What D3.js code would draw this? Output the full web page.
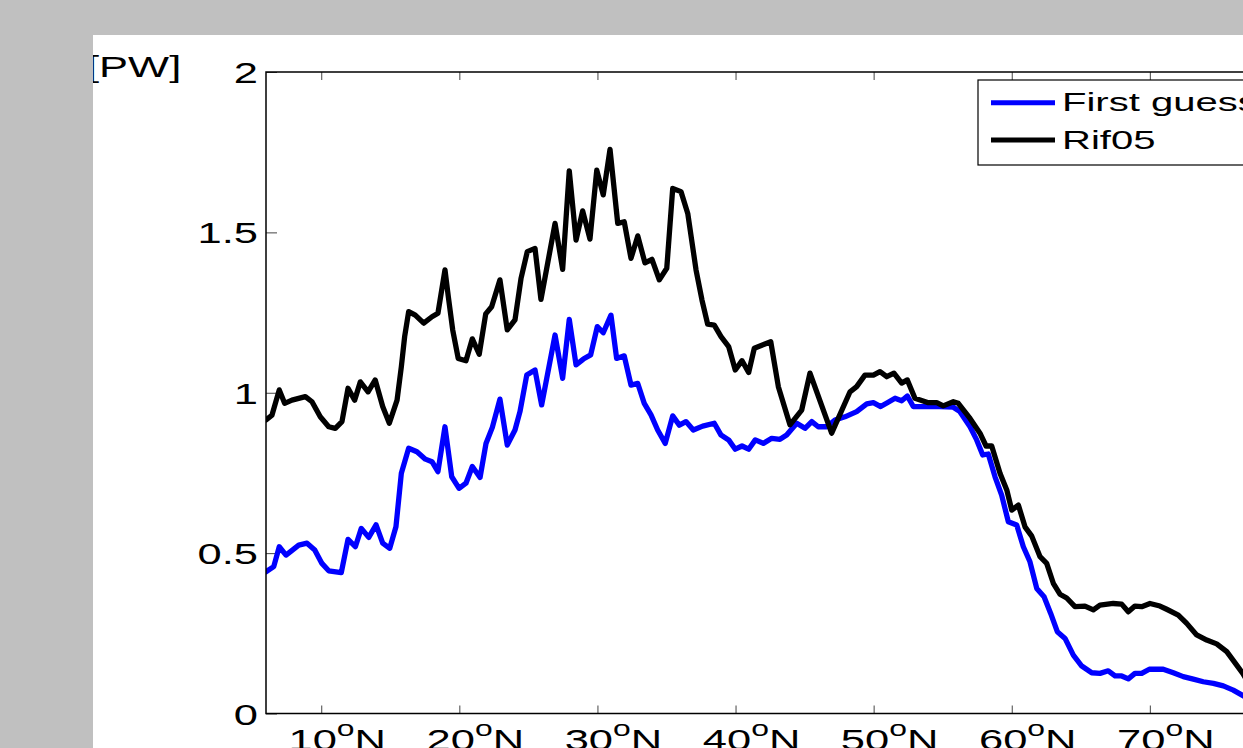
<!DOCTYPE html>
<html>
<head>
<meta charset="utf-8">
<script src="https://cdn.jsdelivr.net/npm/d3@7"></script>
<style>
  html, body { margin: 0; padding: 0; background: #c0c0c0; overflow: hidden; }
  svg { display: block; }
  text { font-family: "Liberation Sans", Arial, sans-serif; fill: #000; }
</style>
</head>
<body>
<script>
// Meridional heat transport [PW] versus latitude
const latFirstGuess = [6.0, 6.56, 6.96, 7.45, 8.37, 8.97, 9.53, 10.05, 10.54, 11.45, 11.94, 12.47, 12.9, 13.44, 13.97, 14.45, 14.96, 15.41, 15.8, 16.33, 16.93, 17.54, 18.02, 18.45, 18.96, 19.45, 19.98, 20.48, 20.94, 21.5, 21.93, 22.39, 22.94, 23.47, 24.03, 24.39, 24.88, 25.48, 25.96, 26.93, 27.48, 27.96, 28.45, 28.98, 29.51, 29.99, 30.42, 30.98, 31.39, 31.94, 32.43, 32.92, 33.39, 33.88, 34.36, 34.91, 35.45, 35.93, 36.41, 36.94, 37.62, 38.46, 38.95, 39.5, 39.98, 40.47, 40.95, 41.43, 42.01, 42.62, 43.22, 43.7, 44.43, 45.03, 45.52, 45.99, 46.6, 47.2, 47.92, 48.77, 49.5, 49.98, 50.51, 50.99, 51.55, 52.03, 52.44, 52.87, 53.84, 54.8, 55.77, 56.25, 56.98, 57.46, 57.9, 58.3, 58.79, 59.27, 59.75, 60.36, 60.84, 61.32, 61.81, 62.34, 62.82, 63.3, 63.86, 64.46, 65.07, 65.79, 66.39, 66.99, 67.48, 67.96, 68.44, 68.92, 69.41, 69.96, 70.97, 71.7, 72.42, 73.15, 73.87, 74.6, 75.32, 76.04, 76.65, 77.2];
const valFirstGuess = [0.442, 0.458, 0.52, 0.494, 0.525, 0.531, 0.51, 0.468, 0.445, 0.439, 0.543, 0.52, 0.577, 0.549, 0.588, 0.531, 0.515, 0.582, 0.749, 0.827, 0.816, 0.793, 0.785, 0.754, 0.894, 0.738, 0.702, 0.718, 0.77, 0.736, 0.842, 0.892, 0.98, 0.837, 0.884, 0.941, 1.055, 1.071, 0.962, 1.18, 1.045, 1.229, 1.087, 1.105, 1.118, 1.206, 1.187, 1.242, 1.107, 1.115, 1.024, 1.029, 0.967, 0.931, 0.884, 0.842, 0.928, 0.899, 0.91, 0.884, 0.896, 0.905, 0.868, 0.853, 0.824, 0.834, 0.824, 0.853, 0.842, 0.858, 0.855, 0.868, 0.905, 0.889, 0.91, 0.894, 0.894, 0.915, 0.925, 0.941, 0.965, 0.969, 0.957, 0.969, 0.983, 0.975, 0.99, 0.957, 0.957, 0.957, 0.955, 0.941, 0.894, 0.853, 0.806, 0.809, 0.738, 0.681, 0.598, 0.588, 0.52, 0.473, 0.39, 0.364, 0.312, 0.255, 0.234, 0.182, 0.148, 0.127, 0.125, 0.133, 0.117, 0.117, 0.108, 0.125, 0.125, 0.138, 0.138, 0.127, 0.115, 0.107, 0.099, 0.094, 0.086, 0.073, 0.058, 0.045];

const latRif05 = [6.0, 6.43, 6.96, 7.35, 7.88, 8.85, 9.33, 9.93, 10.54, 11.02, 11.5, 11.94, 12.42, 12.83, 13.39, 13.91, 14.45, 14.93, 15.49, 15.8, 16.04, 16.33, 16.81, 17.42, 18.02, 18.45, 18.96, 19.2, 19.52, 19.92, 20.48, 20.94, 21.44, 21.91, 22.34, 22.94, 23.47, 24.03, 24.47, 24.92, 25.48, 25.91, 26.93, 27.48, 27.96, 28.45, 28.93, 29.46, 29.95, 30.42, 30.91, 31.47, 31.94, 32.43, 32.92, 33.44, 33.95, 34.48, 35.02, 35.45, 36.05, 36.54, 37.14, 37.57, 37.98, 38.46, 38.95, 39.5, 39.98, 40.47, 40.95, 41.36, 42.55, 43.1, 43.94, 44.79, 45.39, 46.96, 48.29, 48.77, 49.37, 49.98, 50.46, 50.95, 51.47, 52.03, 52.44, 52.99, 53.96, 54.57, 55.04, 55.77, 56.13, 56.98, 57.7, 58.14, 58.55, 59.15, 59.64, 60.0, 60.48, 60.96, 61.45, 62.05, 62.53, 63.01, 63.49, 63.98, 64.58, 65.3, 65.91, 66.39, 67.35, 67.96, 68.44, 68.92, 69.41, 70.01, 70.73, 71.22, 72.06, 72.67, 73.39, 74.12, 74.84, 75.57, 76.29, 76.73, 77.2];
const valRif05 = [0.915, 0.93, 1.009, 0.967, 0.977, 0.988, 0.972, 0.925, 0.894, 0.889, 0.91, 1.014, 0.977, 1.034, 1.003, 1.04, 0.957, 0.905, 0.977, 1.081, 1.175, 1.253, 1.242, 1.217, 1.237, 1.248, 1.383, 1.3, 1.196, 1.107, 1.1, 1.168, 1.12, 1.246, 1.268, 1.352, 1.196, 1.227, 1.357, 1.44, 1.45, 1.291, 1.528, 1.385, 1.692, 1.476, 1.567, 1.479, 1.694, 1.617, 1.759, 1.528, 1.533, 1.419, 1.489, 1.405, 1.416, 1.352, 1.388, 1.637, 1.627, 1.559, 1.383, 1.289, 1.214, 1.211, 1.175, 1.144, 1.071, 1.1, 1.063, 1.139, 1.159, 1.019, 0.9, 0.946, 1.061, 0.874, 1.003, 1.019, 1.055, 1.055, 1.066, 1.05, 1.061, 1.03, 1.04, 0.983, 0.969, 0.969, 0.959, 0.972, 0.967, 0.92, 0.874, 0.834, 0.834, 0.749, 0.697, 0.634, 0.65, 0.582, 0.553, 0.489, 0.468, 0.406, 0.372, 0.36, 0.333, 0.335, 0.323, 0.338, 0.343, 0.341, 0.317, 0.335, 0.333, 0.343, 0.335, 0.325, 0.307, 0.281, 0.245, 0.229, 0.217, 0.193, 0.151, 0.125, 0.09];

const seriesNames = ["First guess", "Rif05"];
const seriesColors = ["#0000ff", "#000000"];
const xTickValues = [10, 20, 30, 40, 50, 60, 70, 80];
const yTickValues = [0, 0.5, 1, 1.5, 2];
const yTickLabels = ["0", "0.5", "1", "1.5", "2"];
const unitLabel = "[PW]";

const W = 1243, H = 748;
const SX = 1.45;        // horizontal stretch of axis lettering
const SX_LEGEND = 1.54; // horizontal stretch of legend lettering

const svg = d3.select("body").append("svg").attr("width", W).attr("height", H);

// figure background
svg.append("rect").attr("x", 0).attr("y", 0).attr("width", W).attr("height", H).attr("fill", "#c0c0c0");
svg.append("defs").append("clipPath").attr("id", "panelClip")
  .append("rect").attr("x", 93).attr("y", 35).attr("width", W - 93).attr("height", H - 35);
const panel = svg.append("g").attr("clip-path", "url(#panelClip)");
panel.append("rect").attr("x", 93).attr("y", 35).attr("width", W - 93).attr("height", H - 35).attr("fill", "#fff");

const plotLeft = 266, plotTop = 72, plotBottom = 713.5;
const x = d3.scaleLinear().domain([6, 80]).range([plotLeft, plotLeft + 74 * 13.81]);
const y = d3.scaleLinear().domain([0, 2]).range([plotBottom, plotTop]);
const plotRight = x.range()[1];

panel.append("clipPath").attr("id", "plotClip")
  .append("rect").attr("x", plotLeft).attr("y", plotTop).attr("width", plotRight - plotLeft).attr("height", plotBottom - plotTop);

// inward ticks
const axG = panel.append("g");
axG.append("g").attr("transform", `translate(0,${plotBottom})`)
  .call(d3.axisBottom(x).tickValues(xTickValues).tickSize(-8).tickFormat(""));
axG.append("g").attr("transform", `translate(0,${plotTop})`)
  .call(d3.axisTop(x).tickValues(xTickValues).tickSize(-8).tickFormat(""));
axG.append("g").attr("transform", `translate(${plotLeft},0)`)
  .call(d3.axisLeft(y).tickValues(yTickValues).tickSize(-11).tickFormat(""));
axG.selectAll(".domain").remove();
axG.selectAll(".tick line").attr("stroke", "#444").attr("stroke-width", 1);

// data lines
const line = d3.line().x(d => x(d[0])).y(d => y(d[1]));
const seriesData = [
  d3.zip(latFirstGuess, valFirstGuess),
  d3.zip(latRif05, valRif05)
];
const lines = panel.append("g").attr("clip-path", "url(#plotClip)");
seriesData.forEach((pts, i) => {
  lines.append("path").datum(pts).attr("d", line)
    .attr("fill", "none").attr("stroke", seriesColors[i])
    .attr("stroke-width", 5.3).attr("stroke-linejoin", "round").attr("stroke-linecap", "round");
});

// axes box
panel.append("rect").attr("x", plotLeft).attr("y", plotTop)
  .attr("width", plotRight - plotLeft).attr("height", plotBottom - plotTop)
  .attr("fill", "none").attr("stroke", "#000").attr("stroke-width", 1.5);

function stretchedText(g, px, py, anchor, size, sx) {
  return g.append("text")
    .attr("transform", `translate(${px},${py}) scale(${sx || SX},1)`)
    .attr("text-anchor", anchor).attr("font-size", size);
}

// y tick labels
yTickValues.forEach((v, i) => {
  stretchedText(panel, 258, y(v) + 11, "end", 30).text(yTickLabels[i]);
});

// x tick labels with degree superscript
xTickValues.forEach(v => {
  const t = stretchedText(panel, x(v) + 16, 750, "middle", 30);
  t.append("tspan").text(v);
  t.append("tspan").attr("font-size", 22).attr("dy", -14.5).text("o");
  t.append("tspan").attr("dy", 14.5).text("N");
});

// unit label
stretchedText(panel, 87, 77, "start", 30).text(unitLabel);

// legend
const lg = panel.append("g");
lg.append("rect").attr("x", 978).attr("y", 80).attr("width", 400).attr("height", 85)
  .attr("fill", "#fff").attr("stroke", "#000").attr("stroke-width", 1.2);
const legendRows = [102.7, 140];
seriesNames.forEach((name, i) => {
  lg.append("line").attr("x1", 991).attr("x2", 1055)
    .attr("y1", legendRows[i]).attr("y2", legendRows[i])
    .attr("stroke", seriesColors[i]).attr("stroke-width", 5);
  stretchedText(lg, 1062, legendRows[i] + 8.5, "start", 26, SX_LEGEND).text(name);
});
</script>
</body>
</html>
